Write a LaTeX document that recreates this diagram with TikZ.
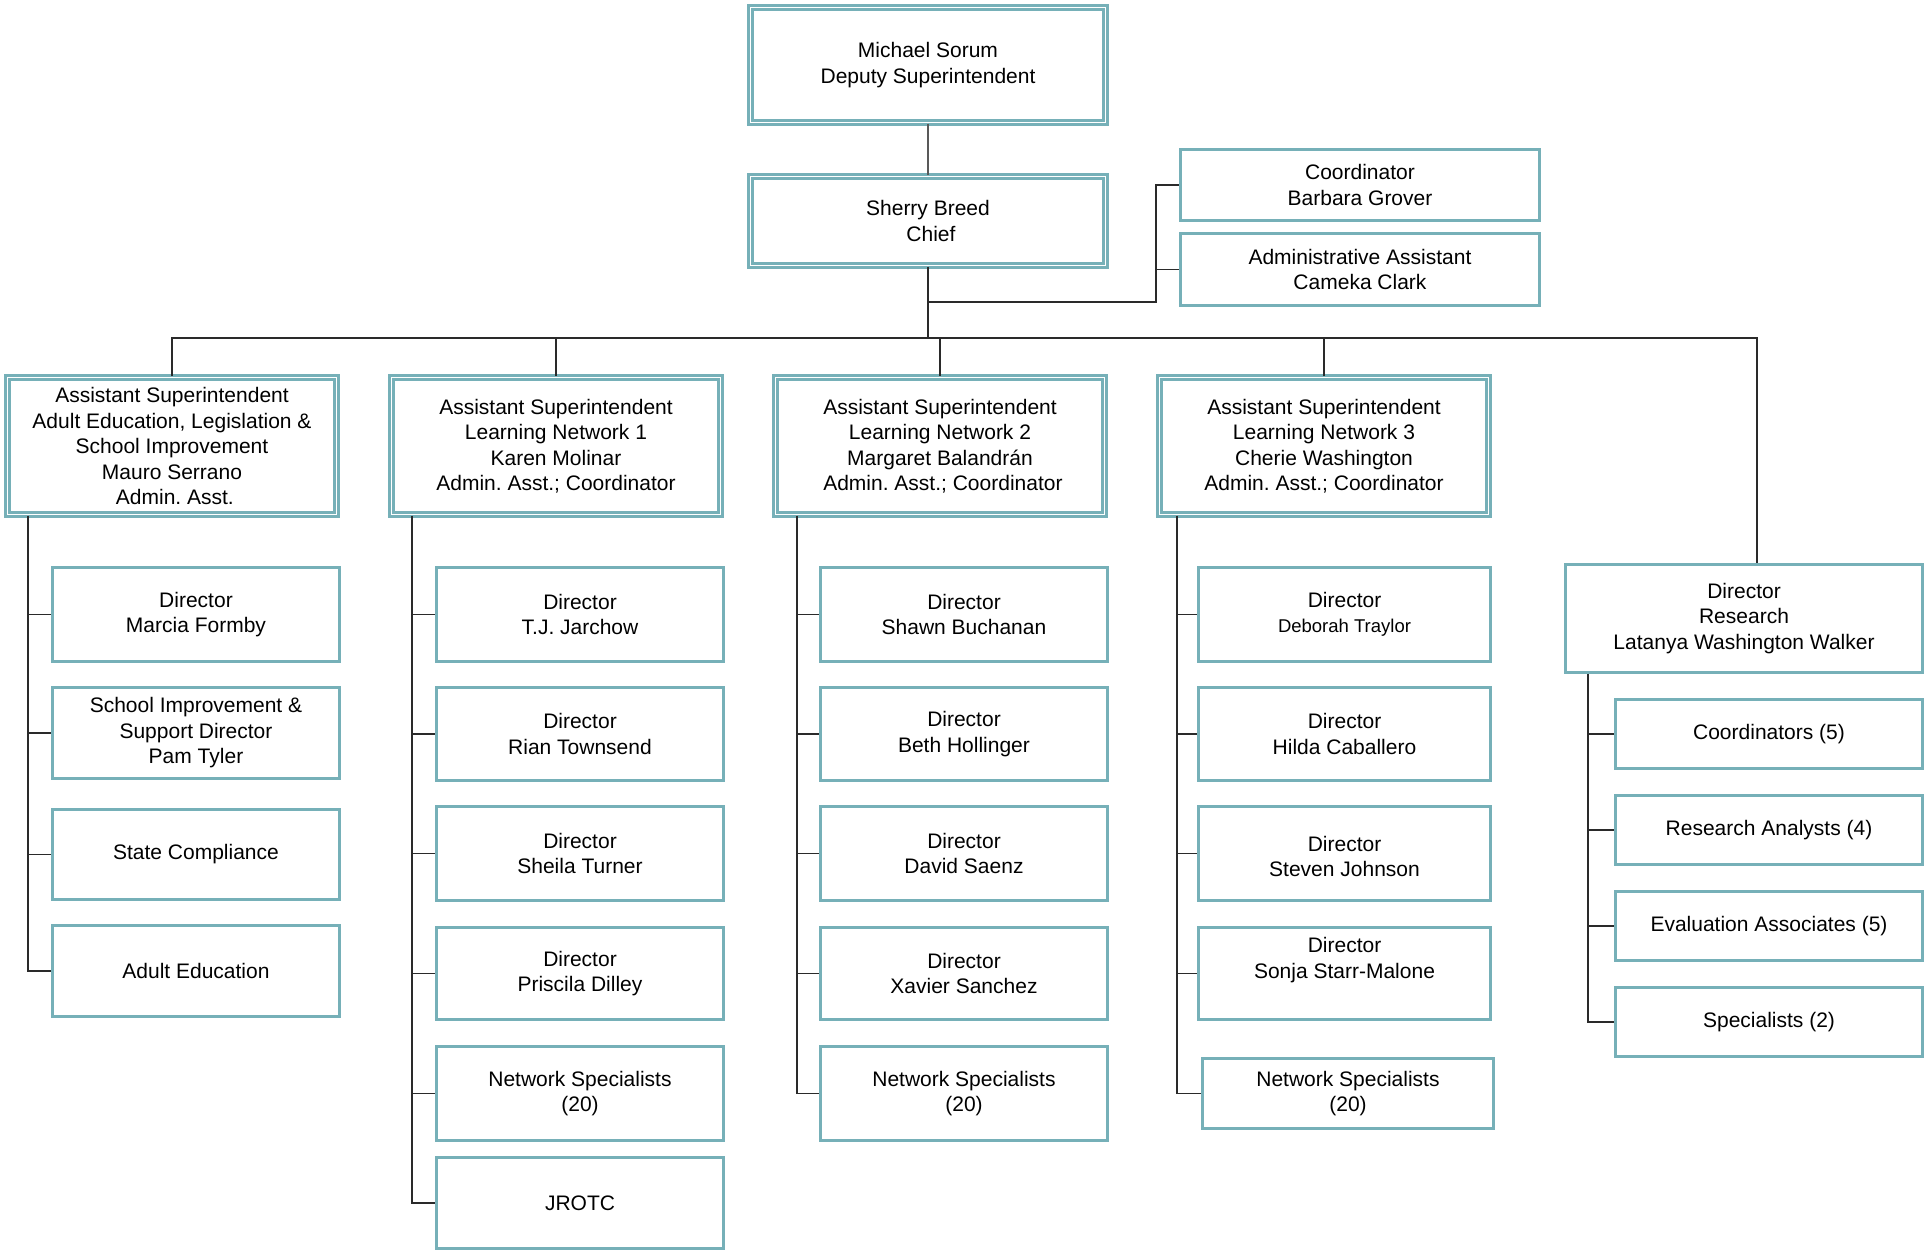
\documentclass[tikz,border=0pt]{standalone}
\usepackage{fontspec}
\setmainfont{Liberation Sans}
\frenchspacing
\definecolor{tealb}{HTML}{76B0B8}
\definecolor{lnk}{HTML}{2A2A2A}
\tikzset{
  base/.style={align=center, inner sep=0pt, fill=white, text=black,
    font=\fontsize{21}{25.5}\selectfont},
  dbox/.style={base, draw=tealb, double=white, line width=2.4pt, double distance=1.8pt},
  sbox/.style={base, draw=tealb, line width=3pt},
  link/.style={draw=lnk, line width=1.4pt},
}
\begin{document}
\begin{tikzpicture}[x=1pt,y=-1pt]
\useasboundingbox (0,0) rectangle (1925,1250);
% top
\node[dbox, minimum width=355pt, minimum height=115pt] (ms) at (928,65) {Michael Sorum\\Deputy Superintendent};
\node[dbox, minimum width=355pt, minimum height=89pt] (chief) at (928,221) {Sherry Breed\\\ Chief};
\node[sbox, minimum width=359pt, minimum height=71pt] (coord) at (1360,185) {Coordinator\\Barbara Grover};
\node[sbox, minimum width=359pt, minimum height=72pt] (admin) at (1360,269.5) {Administrative Assistant\\Cameka Clark};
% assistants
\node[dbox, minimum width=329pt, minimum height=137pt] (as1) at (172,446) {Assistant Superintendent\\Adult Education, Legislation \&\\School Improvement\\Mauro Serrano\\\ Admin. Asst.};
\node[dbox, minimum width=329pt, minimum height=137pt] (as2) at (556,446) {Assistant Superintendent\\Learning Network 1\\Karen Molinar\\Admin. Asst.; Coordinator};
\node[dbox, minimum width=329pt, minimum height=137pt] (as3) at (940,446) {Assistant Superintendent\\Learning Network 2\\Margaret Balandrán\\\ Admin. Asst.; Coordinator};
\node[dbox, minimum width=329pt, minimum height=137pt] (as4) at (1324,446) {Assistant Superintendent\\Learning Network 3\\Cherie Washington\\Admin. Asst.; Coordinator};
\node[sbox, minimum width=357pt, minimum height=108pt] (rd) at (1744,618.5) {Director\\Research\\Latanya Washington Walker};
% column 1
\node[sbox, minimum width=287pt, minimum height=94pt] (c1a) at (196,614.5) {Director\\Marcia Formby};
\node[sbox, minimum width=287pt, minimum height=91pt] (c1b) at (196,733) {School Improvement \&\\Support Director\\Pam Tyler};
\node[sbox, minimum width=287pt, minimum height=90pt] (c1c) at (196,854.5) {State Compliance};
\node[sbox, minimum width=287pt, minimum height=91pt] (c1d) at (196,971) {Adult Education};
% column 2
\node[sbox, minimum width=287pt, minimum height=94pt] (c2a) at (580,614.5) {Director\\T.J. Jarchow};
\node[sbox, minimum width=287pt, minimum height=93pt] (c2b) at (580,734) {Director\\Rian Townsend};
\node[sbox, minimum width=287pt, minimum height=94pt] (c2c) at (580,853.5) {Director\\Sheila Turner};
\node[sbox, minimum width=287pt, minimum height=92pt] (c2d) at (580,973.5) {Director\\Priscila Dilley};
\node[sbox, minimum width=287pt, minimum height=94pt] (c2e) at (580,1093.5) {Network Specialists\\(20)};
\node[sbox, minimum width=287pt, minimum height=91pt] (c2f) at (580,1203) {JROTC};
% column 3
\node[sbox, minimum width=287pt, minimum height=94pt] (c3a) at (964,614.5) {Director\\Shawn Buchanan};
\node[sbox, minimum width=287pt, minimum height=93pt] (c3b) at (964,734) {Director\\Beth Hollinger};
\node[sbox, minimum width=287pt, minimum height=94pt] (c3c) at (964,853.5) {Director\\David Saenz};
\node[sbox, minimum width=287pt, minimum height=92pt] (c3d) at (964,973.5) {Director\\Xavier Sanchez};
\node[sbox, minimum width=287pt, minimum height=94pt] (c3e) at (964,1093.5) {Network Specialists\\(20)};
% column 4
\node[sbox, minimum width=292pt, minimum height=94pt] (c4a) at (1344.5,614.5) {Director\\{\fontsize{18.5}{22}\selectfont Deborah Traylor}};
\node[sbox, minimum width=292pt, minimum height=93pt] (c4b) at (1344.5,734) {Director\\Hilda Caballero};
\node[sbox, minimum width=292pt, minimum height=94pt] (c4c) at (1344.5,853.5) {\raisebox{0pt}[21pt][0pt]{}Director\\Steven Johnson};
\node[sbox, minimum width=292pt, minimum height=92pt] (c4d) at (1344.5,973.5) {Director\\Sonja Starr-Malone\\[6pt]};
\node[sbox, minimum width=291pt, minimum height=70pt] (c4e) at (1348,1093.5) {Network Specialists\\(20)};
% column 5
\node[sbox, minimum width=307pt, minimum height=69pt] (c5a) at (1769,734) {Coordinators (5)};
\node[sbox, minimum width=307pt, minimum height=69pt] (c5b) at (1769,830) {Research Analysts (4)};
\node[sbox, minimum width=307pt, minimum height=69pt] (c5c) at (1769,926) {Evaluation Associates (5)};
\node[sbox, minimum width=307pt, minimum height=69pt] (c5d) at (1769,1022) {Specialists (2)};
% connectors
\coordinate (bus) at (928,338);
\coordinate (st) at (1156,302);
\draw[link, draw=gray!70!black] (ms) -- (chief);
\draw[link] (chief.south) -- (bus);
\foreach \n in {as1,as2,as3,as4} \draw[link] (bus) -| (\n.north);
\draw[link] (bus) -| ([xshift=13pt]rd.north);
\draw[link] (chief.south |- st) -- (st) |- (coord.west);
\draw[link] (st |- admin.west) -- (admin.west);
% spines
\coordinate (sp1) at (28,0);
\coordinate (sp2) at (412,0);
\coordinate (sp3) at (797,0);
\coordinate (sp4) at (1177,0);
\coordinate (sp5) at (1588,0);
\draw[link] (as1.south -| sp1) |- (c1d.west);
\foreach \n in {c1a,c1b,c1c} \draw[link] (sp1 |- \n.west) -- (\n.west);
\draw[link] (as2.south -| sp2) |- (c2f.west);
\foreach \n in {c2a,c2b,c2c,c2d,c2e} \draw[link] (sp2 |- \n.west) -- (\n.west);
\draw[link] (as3.south -| sp3) |- (c3e.west);
\foreach \n in {c3a,c3b,c3c,c3d} \draw[link] (sp3 |- \n.west) -- (\n.west);
\draw[link] (as4.south -| sp4) |- (c4e.west);
\foreach \n in {c4a,c4b,c4c,c4d} \draw[link] (sp4 |- \n.west) -- (\n.west);
\draw[link] (rd.south -| sp5) |- (c5d.west);
\foreach \n in {c5a,c5b,c5c} \draw[link] (sp5 |- \n.west) -- (\n.west);
\end{tikzpicture}
\end{document}
